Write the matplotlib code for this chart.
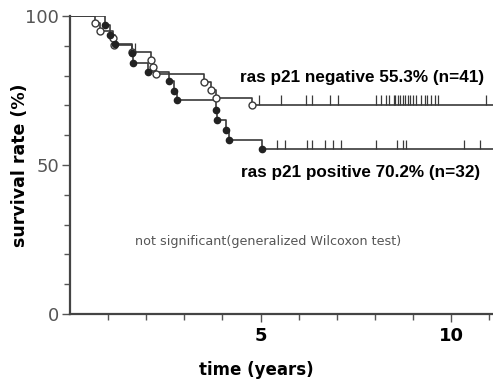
import numpy as np
import matplotlib
matplotlib.use("Agg")
import matplotlib.pyplot as plt

# ras p21 "negative" curve (open circles, upper)
neg_times = [0.65, 0.78, 1.12, 1.15, 1.62, 2.12, 2.17, 2.25, 3.52, 3.71, 3.84, 4.78]
neg_surv = [97.6, 95.1, 92.7, 90.2, 87.8, 85.4, 82.9, 80.5, 77.9, 75.2, 72.6, 70.2]
neg_censor = [1.70, 4.96, 5.54, 6.19, 6.34, 6.81, 7.02, 8.02, 8.15, 8.30, 8.36, 8.49,
              8.54, 8.62, 8.67, 8.75, 8.80, 8.88, 8.93, 9.01, 9.09, 9.22, 9.32, 9.37,
              9.48, 9.58, 9.66, 10.91]

# ras p21 "positive" curve (filled dots, lower)
pos_times = [0.91, 1.05, 1.17, 1.62, 1.65, 2.04, 2.61, 2.74, 2.82, 3.84, 3.87, 4.10, 4.18, 5.04]
pos_surv = [96.9, 93.8, 90.6, 87.5, 84.4, 81.3, 78.1, 75.0, 71.9, 68.6, 65.2, 61.8, 58.4, 55.3]
pos_censor = [5.43, 5.64, 6.21, 6.34, 6.68, 6.89, 7.10, 8.04, 8.59, 8.75, 8.83, 10.34, 10.76]

neg_label = "ras p21 negative 55.3% (n=41)"
pos_label = "ras p21 positive 70.2% (n=32)"
note = "not significant(generalized Wilcoxon test)"

x_end = 11.1
line_col = "#3a3a3a"

fig = plt.figure(figsize=(4.93, 3.83), dpi=100)
ax = fig.add_axes([0.142, 0.180, 0.858, 0.778])


def km(ax, times, surv, censor, filled):
    t = np.array([0.0] + times + [x_end])
    s = np.array([100.0] + surv + [surv[-1]])
    ax.step(t, s, where="post", color=line_col, lw=1.2, zorder=2)
    # censor ticks sit on the step level at that time
    idx = np.searchsorted(t, censor, side="right") - 1
    lev = s[idx]
    ax.vlines(censor, lev, lev + 3.2, color=line_col, lw=0.9, zorder=2)
    if filled:
        ax.plot(times, surv, "o", ms=4.5, mfc="#222222", mec="#222222", zorder=3)
    else:
        ax.plot(times, surv, "o", ms=5, mfc="white", mec=line_col, mew=1.0, zorder=3)


km(ax, neg_times, neg_surv, neg_censor, False)
km(ax, pos_times, pos_surv, pos_censor, True)

ax.set_xlim(0, x_end)
ax.set_ylim(0, 100)

for sp in ["top", "right"]:
    ax.spines[sp].set_visible(False)
for sp in ["left", "bottom"]:
    ax.spines[sp].set_linewidth(1.6)
    ax.spines[sp].set_color("#444444")

ax.set_xticks([5, 10])
ax.set_xticks(np.arange(1, 12), minor=True)
ax.set_yticks([0, 50, 100])
ax.set_yticks(np.arange(0, 101, 10), minor=True)
ax.tick_params(which="both", direction="out", color="#555555", width=1.0)
ax.tick_params(which="major", length=6)
ax.tick_params(which="minor", length=4)
ax.tick_params(axis="x", labelsize=13, pad=3)
ax.tick_params(axis="y", labelsize=13, labelcolor="#555555", pad=2)
for lab in ax.get_xticklabels():
    lab.set_fontweight("bold")

ax.set_xlabel("time (years)", fontsize=12, fontweight="bold", va="center")
ax.set_ylabel("survival rate (%)", fontsize=12.5, fontweight="bold", va="center")
ax.xaxis.set_label_coords(0.44, -0.188)
ax.yaxis.set_label_coords(-0.118, 0.5)

ax.text(4.45, 79.5, neg_label, fontsize=12.3, fontweight="bold",
        va="center", ha="left", family="Liberation Sans")
ax.text(4.5, 47.5, pos_label, fontsize=12.3, fontweight="bold",
        va="center", ha="left", family="Liberation Sans")
ax.text(1.7, 24.5, note, fontsize=9.2, color="#555555",
        va="center", ha="left")

fig.savefig("out.png", dpi=100)
